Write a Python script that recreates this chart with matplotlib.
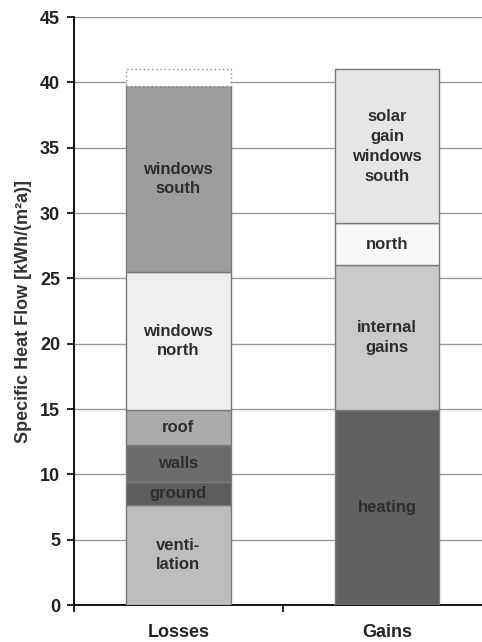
import numpy as np
import matplotlib.pyplot as plt

# ============================================================
# Data (kWh/(m²a))
# ============================================================
categories = ['Losses', 'Gains']

loss_labels = ['venti-\nlation', 'ground', 'walls', 'roof', 'windows\nnorth', 'windows\nsouth']
loss_values = [7.65, 1.75, 2.85, 2.7, 10.5, 14.3]
loss_colors = ['#bdbdbd', '#5c5c5c', '#6c6c6c', '#ababab', '#efefef', '#9c9c9c']
loss_rest = 1.25  # dotted, unlabeled part on top of the losses bar

gain_labels = ['heating', 'internal\ngains', 'north', 'solar\ngain\nwindows\nsouth']
gain_values = [14.9, 11.1, 3.2, 11.8]
gain_colors = ['#606060', '#c9c9c9', '#f8f8f8', '#e6e6e6']

yticks = np.arange(0, 50, 5)

plt.rcParams['font.family'] = ['Liberation Sans', 'DejaVu Sans']
plt.rcParams['font.weight'] = 'bold'

fig = plt.figure(figsize=(4.82, 6.42), dpi=100)
ax = fig.add_axes([0.1535, 0.0576, 0.8465, 0.9159])

width = 0.5
txt = '#2e2e2e'

def stack(x, values, labels, colors):
    bottom = 0.0
    for v, lab, col in zip(values, labels, colors):
        ax.bar(x, v, width, bottom=bottom, color=col, edgecolor='#7a7a7a',
               linewidth=1.0, zorder=3)
        ax.text(x, bottom + v / 2, lab, ha='center', va='center',
                fontsize=12, fontweight='bold', color=txt, linespacing=1.4, zorder=4)
        bottom += v
    return bottom

top_loss = stack(0, loss_values, loss_labels, loss_colors)
ax.bar(0, loss_rest, width, bottom=top_loss, color='white', edgecolor='#8a8a8a',
       linewidth=1.0, linestyle=(0, (1, 2)), zorder=3)
stack(1, gain_values, gain_labels, gain_colors)

# --- axes styling ---
ax.set_ylim(0, 45)
ax.set_xlim(-0.5, 1.455)
ax.set_yticks(yticks)
ax.yaxis.grid(True, color='#9a9a9a', linewidth=1.0, zorder=0)
ax.set_axisbelow(True)
for s in ['top', 'right']:
    ax.spines[s].set_visible(False)
ax.spines['left'].set_linewidth(1.3)
ax.spines['bottom'].set_linewidth(1.3)

ax.tick_params(axis='y', length=5, width=1.2, labelsize=13, labelcolor='#222222', pad=5)
ax.set_xticks([0, 1])
ax.set_xticklabels(categories)
ax.set_xticks([-0.5, 0.5], minor=True)
ax.tick_params(axis='x', which='major', length=0, labelsize=13, labelcolor='#222222', pad=14)
ax.tick_params(axis='x', which='minor', length=5, width=1.2)
for lab in ax.get_xticklabels() + ax.get_yticklabels():
    lab.set_fontweight('bold')

ax.set_ylabel('Specific Heat Flow [kWh/(m²a)]', fontsize=13, fontweight='bold',
              color='#333333', labelpad=6)

plt.savefig('out.png', dpi=100)
